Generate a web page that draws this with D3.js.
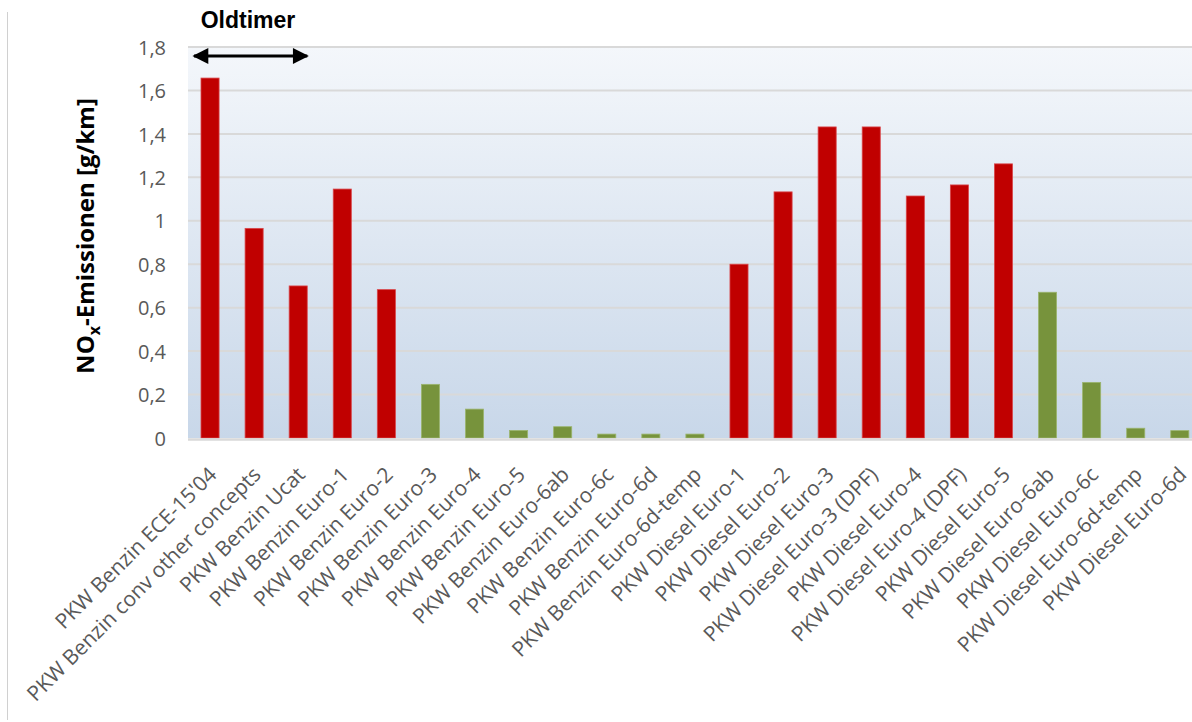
<!DOCTYPE html>
<html><head><meta charset="utf-8">
<script src="https://cdn.jsdelivr.net/npm/d3@7"></script>
<style>html,body{margin:0;padding:0;background:#fff;overflow:hidden}</style>
</head><body>
<svg id="chart" width="1192" height="722"></svg>
<script>
const categories = [
  "PKW Benzin ECE-15'04","PKW Benzin conv other concepts","PKW Benzin Ucat","PKW Benzin Euro-1","PKW Benzin Euro-2",
  "PKW Benzin Euro-3","PKW Benzin Euro-4","PKW Benzin Euro-5","PKW Benzin Euro-6ab","PKW Benzin Euro-6c",
  "PKW Benzin Euro-6d","PKW Benzin Euro-6d-temp","PKW Diesel Euro-1","PKW Diesel Euro-2","PKW Diesel Euro-3",
  "PKW Diesel Euro-3 (DPF)","PKW Diesel Euro-4","PKW Diesel Euro-4 (DPF)","PKW Diesel Euro-5","PKW Diesel Euro-6ab",
  "PKW Diesel Euro-6c","PKW Diesel Euro-6d-temp","PKW Diesel Euro-6d"
];
const values = [1.657,0.965,0.70,1.146,0.683,0.247,0.133,0.035,0.052,0.018,0.018,0.018,0.80,1.133,1.432,1.432,1.114,1.165,1.262,0.671,0.256,0.045,0.034];
const compliant = [false,false,false,false,false,true,true,true,true,true,true,true,false,false,false,false,false,false,false,true,true,true,true];
const yTicks = [0,0.2,0.4,0.6,0.8,1.0,1.2,1.4,1.6,1.8];
const yTickLabels = ["0","0,2","0,4","0,6","0,8","1","1,2","1,4","1,6","1,8"];
const oldtimerGroup = ["PKW Benzin ECE-15'04","PKW Benzin Ucat"];

const svg = d3.select("#chart");
const pLeft = 188, pTop = 47, pBottom = 438;
const x = d3.scaleBand().domain(categories).range([pLeft, pLeft + 23*44.08]).paddingInner(0.59).paddingOuter(0.295);
const y = d3.scaleLinear().domain([0,1.8]).range([pBottom, pTop]);

svg.append("line").attr("x1",7.5).attr("x2",7.5).attr("y1",12).attr("y2",720).attr("stroke","#d0d0d0").attr("stroke-width",1);

const defs = svg.append("defs");
const grad = defs.append("linearGradient").attr("id","bg").attr("x1",0).attr("y1",0).attr("x2",0).attr("y2",1);
grad.append("stop").attr("offset","0%").attr("stop-color","#f4f7fb");
grad.append("stop").attr("offset","100%").attr("stop-color","#c8d7e9");

svg.append("rect").attr("x",pLeft).attr("y",pTop).attr("width",1192-pLeft).attr("height",pBottom-pTop).attr("fill","url(#bg)");

svg.append("g").selectAll("line").data(yTicks.slice(1)).join("line")
  .attr("x1",pLeft).attr("x2",1192).attr("y1",d=>y(d)).attr("y2",d=>y(d))
  .attr("stroke","#d9d9d9").attr("stroke-width",2);

svg.append("g").selectAll("rect").data(categories).join("rect")
  .attr("x",d=>x(d)).attr("width",x.bandwidth())
  .attr("y",(d,i)=>y(values[i])).attr("height",(d,i)=>y(0)-y(values[i]))
  .attr("fill",(d,i)=>compliant[i]?"#77933c":"#c00000")
  .attr("stroke",(d,i)=>compliant[i]?"#9bb56e":"#d9464a").attr("stroke-width",0.8);

svg.append("line").attr("x1",pLeft).attr("x2",1192).attr("y1",pBottom+1.5).attr("y2",pBottom+1.5).attr("stroke","#d9d9d9").attr("stroke-width",2.5);

const yAxis = d3.axisLeft(y).tickValues(yTicks).tickFormat((d,i)=>yTickLabels[i]).tickSize(0).tickPadding(0);
const ya = svg.append("g").attr("transform",`translate(${pLeft-22},0)`).call(yAxis);
ya.select(".domain").remove();
ya.selectAll("text").attr("font-family","'Open Sans'").attr("font-size",20).attr("fill","#595959").attr("dy","0.36em");

const xAxis = d3.axisBottom(x).tickSize(0).tickPadding(0);
const xa = svg.append("g").attr("transform",`translate(0,${pBottom})`).call(xAxis);
xa.select(".domain").remove();
xa.selectAll("text").attr("font-family","'Open Sans'").attr("font-size",21).attr("fill","#595959")
  .attr("text-anchor","end").attr("dy",0).attr("y",0)
  .attr("transform","translate(8,38) rotate(-45)");

svg.append("text").attr("transform","translate(94,236) rotate(-90)").attr("text-anchor","middle")
  .attr("font-family","'Open Sans'").attr("font-weight","bold").attr("font-size",24).attr("fill","#000")
  .call(t=>{t.append("tspan").text("NO");t.append("tspan").text("x").attr("font-size",16).attr("dy",6);t.append("tspan").text("-Emissionen [g/km]").attr("dy",-6);});

const ax1 = x(oldtimerGroup[0]) - 7, ax2 = x(oldtimerGroup[1]) + x.bandwidth(), ay = 56;
svg.append("text").attr("x",248).attr("y",28).attr("text-anchor","middle")
  .attr("font-family","'Liberation Sans', Arial").attr("font-weight","bold").attr("font-size",23).text("Oldtimer");
defs.append("marker").attr("id","ah").attr("viewBox","0 0 10 10").attr("refX",9).attr("refY",5)
  .attr("markerWidth",5.7).attr("markerHeight",5.3).attr("orient","auto-start-reverse").attr("markerUnits","strokeWidth")
  .append("path").attr("d","M0,0L10,5L0,10Z").attr("fill","#000");
svg.append("line").attr("x1",ax1).attr("x2",ax2).attr("y1",ay).attr("y2",ay).attr("stroke","#000").attr("stroke-width",3)
  .attr("marker-start","url(#ah)").attr("marker-end","url(#ah)");
</script>
</body></html>
